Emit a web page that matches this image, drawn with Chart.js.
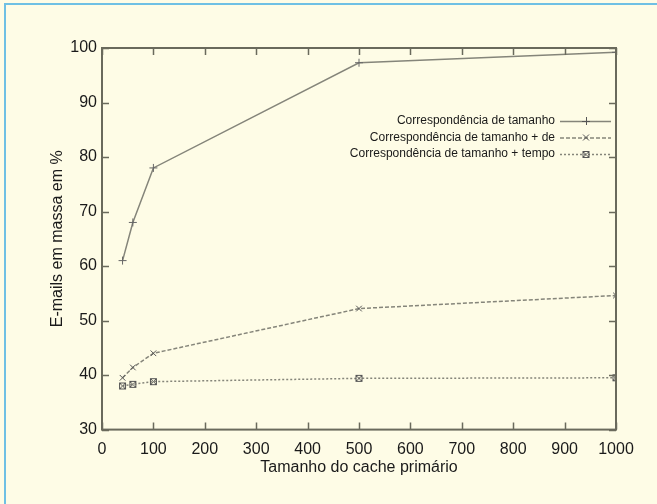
<!DOCTYPE html>
<html>
<head>
<meta charset="utf-8">
<script src="https://cdn.jsdelivr.net/npm/chart.js@4"></script>
<style>
    html, body { margin: 0; padding: 0; background: #fefce6; }
    #wrap { position: relative; width: 657px; height: 504px; overflow: hidden; }
    #frame { position: absolute; left: 4px; top: 3px; width: 700px; height: 600px;
             border-left: 2px solid #6fc0e4; border-top: 2px solid #6fc0e4; box-sizing: border-box; }
    canvas { position: absolute; left: 0; top: 0; }
</style>
</head>
<body>
<div id="wrap">
    <div id="frame"></div>
    <canvas id="chart" width="657" height="504"></canvas>
</div>
<script>
const cacheSizes = [40, 60, 100, 500, 1000];
const sizeMatch = [61, 68, 78, 97.3, 99.2];
const sizeFromMatch = [39.5, 41.4, 44, 52.2, 54.6];
const sizeTimeMatch = [38, 38.3, 38.8, 39.4, 39.5];
const seriesNames = [
    'Correspondência de tamanho',
    'Correspondência de tamanho + de',
    'Correspondência de tamanho + tempo'
];
const xTicks = [0, 100, 200, 300, 400, 500, 600, 700, 800, 900, 1000];
const yTicks = [30, 40, 50, 60, 70, 80, 90, 100];

const axisColor = '#6a6a5c';
const lineColor = '#85857a';
const textColor = '#1a1a1a';
const font = 'Liberation Sans, Arial, sans-serif';

function toPoints(values) {
    return cacheSizes.map((x, i) => ({ x: x, y: values[i] }));
}

// marker for series 3: x inside a small box
const boxCross = document.createElement('canvas');
boxCross.width = 9; boxCross.height = 9;
(() => {
    const c = boxCross.getContext('2d');
    c.strokeStyle = '#555';
    c.lineWidth = 1;
    c.strokeRect(1.5, 1.5, 6, 6);
    c.beginPath();
    c.moveTo(1.5, 1.5); c.lineTo(7.5, 7.5);
    c.moveTo(7.5, 1.5); c.lineTo(1.5, 7.5);
    c.stroke();
})();

// box frame with inward ticks (gnuplot style) and legend, placed from the scales
const framePlugin = {
    id: 'frame',
    afterDatasetsDraw(chart) {
        const { ctx, chartArea: a, scales } = chart;
        ctx.save();
        ctx.strokeStyle = axisColor;
        ctx.lineWidth = 2;
        ctx.strokeRect(a.left, a.top, a.right - a.left, a.bottom - a.top);
        ctx.lineWidth = 1.5;
        ctx.beginPath();
        xTicks.forEach(v => {
            const px = Math.round(scales.x.getPixelForValue(v)) + 0.5;
            ctx.moveTo(px, a.bottom); ctx.lineTo(px, a.bottom - 7);
            ctx.moveTo(px, a.top); ctx.lineTo(px, a.top + 7);
        });
        yTicks.forEach(v => {
            const py = Math.round(scales.y.getPixelForValue(v)) + 0.5;
            ctx.moveTo(a.left, py); ctx.lineTo(a.left + 7, py);
            ctx.moveTo(a.right, py); ctx.lineTo(a.right - 7, py);
        });
        ctx.stroke();

        // legend
        ctx.font = '12px ' + font;
        ctx.textAlign = 'right';
        ctx.textBaseline = 'middle';
        const textRight = a.right - 61;
        const sampleL = a.right - 56;
        const sampleR = a.right - 5;
        chart.data.datasets.forEach((ds, i) => {
            const y = a.top + 73 + i * 16.5;
            ctx.fillStyle = textColor;
            ctx.fillText(seriesNames[i], textRight, y);
            ctx.strokeStyle = ds.borderColor;
            ctx.lineWidth = ds.borderWidth;
            ctx.setLineDash(ds.borderDash || []);
            ctx.beginPath();
            ctx.moveTo(sampleL, y + 0.5); ctx.lineTo(sampleR, y + 0.5);
            ctx.stroke();
            ctx.setLineDash([]);
            const cx = Math.round((sampleL + sampleR) / 2);
            ctx.strokeStyle = '#555';
            ctx.lineWidth = 1;
            if (i === 0) {
                ctx.beginPath();
                ctx.moveTo(cx - 4, y + 0.5); ctx.lineTo(cx + 4, y + 0.5);
                ctx.moveTo(cx + 0.5, y - 4); ctx.lineTo(cx + 0.5, y + 4);
                ctx.stroke();
            } else if (i === 1) {
                ctx.beginPath();
                ctx.moveTo(cx - 3, y - 3); ctx.lineTo(cx + 3, y + 3);
                ctx.moveTo(cx + 3, y - 3); ctx.lineTo(cx - 3, y + 3);
                ctx.stroke();
            } else {
                ctx.drawImage(boxCross, cx - 4.5, y - 4);
            }
        });
        ctx.restore();
    }
};

const ctx = document.getElementById('chart').getContext('2d');
new Chart(ctx, {
    type: 'line',
    data: {
        datasets: [{
            label: seriesNames[0],
            data: toPoints(sizeMatch),
            borderColor: lineColor,
            borderWidth: 1.5,
            pointStyle: 'cross',
            pointRadius: 4,
            pointBorderColor: '#666',
            pointBorderWidth: 1,
            tension: 0
        }, {
            label: seriesNames[1],
            data: toPoints(sizeFromMatch),
            borderColor: lineColor,
            borderWidth: 1.5,
            borderDash: [4, 2],
            pointStyle: 'crossRot',
            pointRadius: 4,
            pointBorderColor: '#555',
            pointBorderWidth: 1,
            tension: 0
        }, {
            label: seriesNames[2],
            data: toPoints(sizeTimeMatch),
            borderColor: lineColor,
            borderWidth: 1.5,
            borderDash: [2, 2],
            pointStyle: boxCross,
            tension: 0
        }]
    },
    options: {
        responsive: false,
        animation: false,
        layout: { padding: { left: 0, right: 41, top: 48, bottom: 0 } },
        plugins: {
            legend: { display: false },
            tooltip: { enabled: false }
        },
        scales: {
            x: {
                type: 'linear',
                min: 0,
                max: 1000,
                afterBuildTicks: scale => { scale.ticks = xTicks.map(v => ({ value: v })); },
                grid: { display: false, drawTicks: false },
                border: { display: false },
                ticks: {
                    color: textColor,
                    font: { family: font, size: 16 },
                    padding: 10,
                    maxRotation: 0,
                    callback: v => String(v)
                },
                title: {
                    display: true,
                    text: 'Tamanho do cache primário',
                    color: textColor,
                    font: { family: font, size: 16 },
                    padding: { top: -11, bottom: 27 }
                }
            },
            y: {
                type: 'linear',
                min: 30,
                max: 100,
                afterBuildTicks: scale => { scale.ticks = yTicks.map(v => ({ value: v })); },
                afterFit: scale => { scale.width = 102; },
                grid: { display: false, drawTicks: false },
                border: { display: false },
                ticks: { color: textColor, font: { family: font, size: 16 }, padding: 5 },
                title: {
                    display: true,
                    text: 'E-mails em massa em %',
                    color: textColor,
                    font: { family: font, size: 16 },
                    padding: { top: 48, bottom: 0 }
                }
            }
        }
    },
    plugins: [framePlugin]
});
</script>
</body>
</html>
